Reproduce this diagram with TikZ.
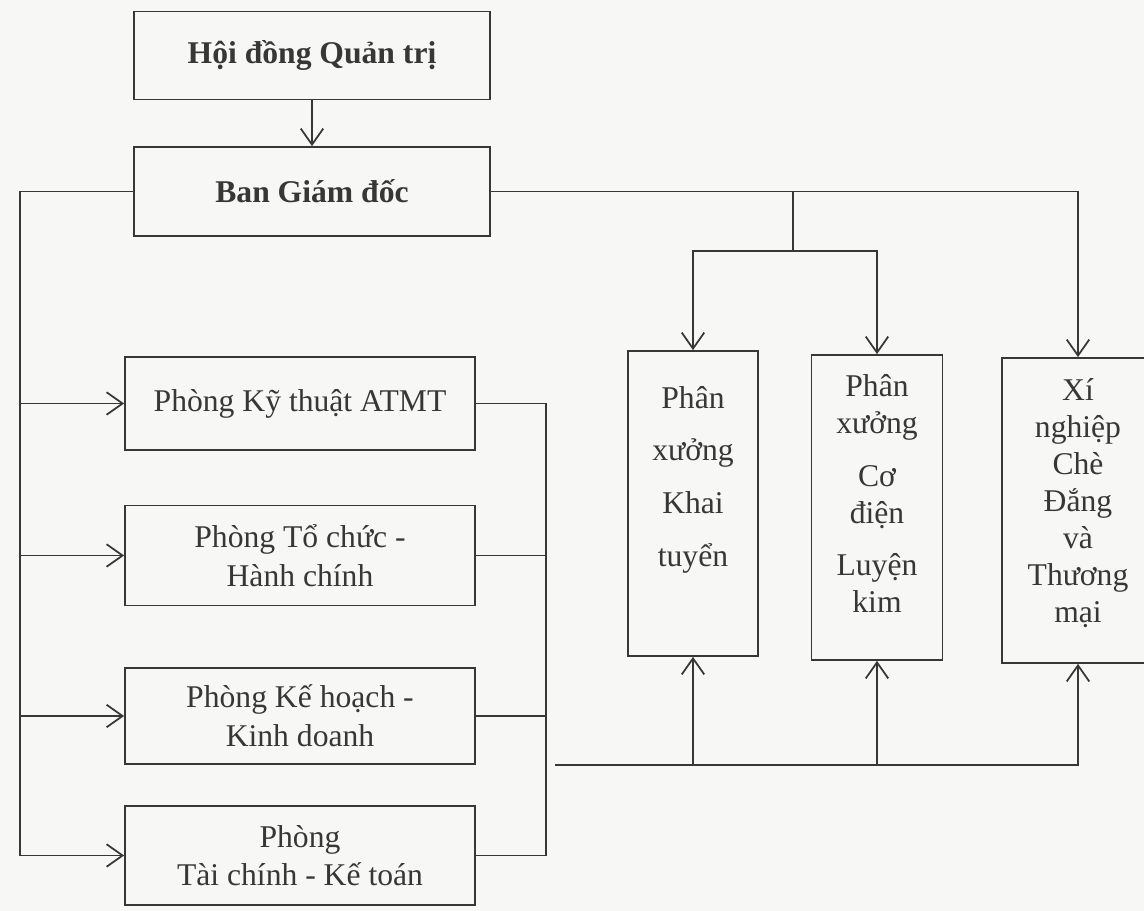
\documentclass[tikz,border=0pt]{standalone}
\usepackage{fontspec}
\setmainfont{Liberation Serif}
\usetikzlibrary{arrows.meta}
\definecolor{paper}{RGB}{247,247,245}
\definecolor{ink}{RGB}{55,55,55}

\begin{document}
\begin{tikzpicture}[
    every node/.style={text=ink},
    board/.style={draw=ink, rectangle, minimum width=7.13cm, minimum height=1.76cm, font=\bfseries\fontsize{18}{22}\selectfont, line width=1pt},
    unit/.style={draw=ink, rectangle, minimum width=7cm, minimum height=2cm, align=center, font=\fontsize{18}{22}\selectfont, line width=1pt},
    colbox/.style={draw=ink, rectangle, inner sep=0pt, font=\fontsize{18}{21}\selectfont, line width=1pt},
    line/.style={draw=ink, line width=1pt},
    arrow/.style={-{Straight Barb[length=0.32cm, width=0.45cm]}, line}
]
    % Page
    \path[use as bounding box, fill=paper] (0,0) rectangle (22.88,-18.22);

    % Board and directors
    \node (b_hdqt) [board] at (6.24,-1.11) {Hội đồng Quản trị};
    \node (b_bgd)  [board, minimum height=1.78cm] at (6.24,-3.83) {Ban Giám đốc};

    % Departments (left column)
    \node (p_ktat) [unit, minimum height=1.87cm] at (6.0,-8.07) {Phòng Kỹ thuật ATMT};
    \node (p_tchc) [unit] at (6.0,-11.11) {Phòng Tổ chức -\\Hành chính};
    \node (p_khkd) [unit, minimum height=1.92cm] at (6.0,-14.32) {Phòng Kế hoạch -\\Kinh doanh};
    \node (p_tckt) [unit, minimum height=1.98cm] at (6.0,-17.11) {Phòng\\Tài chính - Kế toán};

    % Production units (right)
    \node (x_khai)   [colbox] at (13.86,-10.07) {\parbox[c][6.1cm][t]{2.6cm}{\centering\vspace*{0.7cm}Phân\\[9pt]xưởng\\[9pt]Khai\\[9pt]tuyển}};
    \node (x_codien) [colbox] at (17.54,-10.15) {\parbox[c][6.1cm][t]{2.62cm}{\centering\vspace*{0.39cm}Phân\\xưởng\\[9pt]Cơ\\điện\\[9pt]Luyện\\kim}};
    \node (x_che)    [colbox] at (21.56,-10.21) {\parbox[c][6.1cm][t]{3.04cm}{\centering\vspace*{0.42cm}Xí\\nghiệp\\Chè\\Đắng\\và\\Thương\\mại}};

    % Bus points
    \coordinate (lbus)  at (0.4,-3.83);
    \coordinate (rbus)  at (10.92,-8.07);
    \coordinate (feed)  at (11.1,-15.3);
    \coordinate (split) at (15.86,-5.02);

    % Connections - board
    \draw [arrow] (b_hdqt) -- (b_bgd);

    % Connections - departments
    \draw [arrow] (b_bgd.west) -| (lbus |- p_tckt.west) -- (p_tckt.west);
    \foreach \p in {p_ktat, p_tchc, p_khkd}
        \draw [arrow] (lbus |- \p.west) -- (\p.west);

    \draw [line] (p_ktat.east) -| (rbus |- p_tckt.east) -- (p_tckt.east);
    \draw [line] (p_tchc.east) -- (rbus |- p_tchc.east);
    \draw [line] (p_khkd.east) -- (rbus |- p_khkd.east);

    % Connections - production units
    \draw [arrow] (b_bgd.east) -| (x_che.north);
    \draw [line] (split |- b_bgd.east) -- (split);
    \draw [arrow] (split) -| (x_khai.north);
    \draw [arrow] (split) -| (x_codien.north);

    \draw [arrow] (feed) -| (x_che.south);
    \draw [arrow] (feed -| x_khai.south) -- (x_khai.south);
    \draw [arrow] (feed -| x_codien.south) -- (x_codien.south);

\end{tikzpicture}
\end{document}
